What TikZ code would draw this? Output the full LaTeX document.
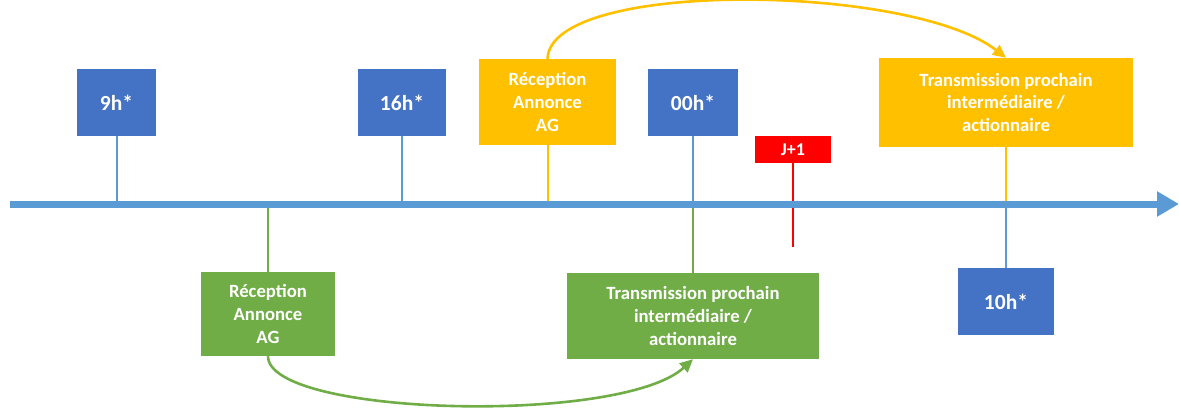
\documentclass[tikz,border=0pt]{standalone}
\usepackage{fontspec}
\setmainfont{Carlito}
\usetikzlibrary{arrows.meta}
\definecolor{boxblue}{HTML}{4472C4}
\definecolor{axisblue}{HTML}{5B9BD5}
\definecolor{boxyellow}{HTML}{FFC000}
\definecolor{boxgreen}{HTML}{70AD47}
\definecolor{boxred}{HTML}{FF0000}
\tikzset{
  box/.style={inner sep=0pt, text=white, align=center, font=\bfseries\fontsize{18.7bp}{22.7bp}\selectfont},
  timebox/.style={box, fill=boxblue, minimum height=67bp, font=\bfseries\fontsize{21.5bp}{25bp}\selectfont},
  eventy/.style={box, fill=boxyellow},
  eventg/.style={box, fill=boxgreen},
  daybox/.style={box, fill=boxred, minimum width=76bp, minimum height=27bp, font=\bfseries\fontsize{18bp}{20bp}\selectfont},
  tick/.style={line width=2bp},
  flow/.style={line width=2.6bp, -{Triangle[length=13bp,width=12bp]}},
  axisline/.style={axisblue, line width=7bp, -{Triangle[length=22bp,width=24bp]}}
}
\begin{document}
\begin{tikzpicture}[x=1bp, y=-1bp]
  \useasboundingbox (0,0) rectangle (1179,407);

  % time axis ends
  \coordinate (axL) at (10,204);
  \coordinate (axR) at (1179,204);

  % hour markers
  \node[timebox, minimum width=79bp] (t9)  at (116.5,102.5) {9h*};
  \node[timebox, minimum width=88bp] (t16) at (402,102.5) {16h*};
  \node[timebox, minimum width=90bp] (t00) at (693,102.5) {00h*};
  \node[timebox, minimum width=96bp] (t10) at (1006,301.5) {10h*};

  % events above the axis
  \node[eventy, minimum width=137bp, minimum height=86bp] (ya) at (547.5,102) {Réception\\Annonce\\AG};
  \node[eventy, minimum width=254bp, minimum height=89bp] (yb) at (1006,102.5) {Transmission prochain\\intermédiaire /\\actionnaire};

  % events below the axis
  \node[eventg, minimum width=134bp, minimum height=84bp] (ga) at (268,314) {Réception\\Annonce\\AG};
  \node[eventg, minimum width=252bp, minimum height=86bp] (gb) at (693,316) {Transmission prochain\\intermédiaire /\\actionnaire};

  % next day marker
  \node[daybox] (jp) at (793,149.5) {J+1};
  \coordinate (jpEnd) at (793,247);

  % ticks joining boxes to the axis
  \draw[tick, axisblue] (t9.south) -- (t9.south |- axL);
  \draw[tick, axisblue] (t16.south) -- (t16.south |- axL);
  \draw[tick, axisblue] (t00.south) -- (t00.south |- axL);
  \draw[tick, boxgreen] (gb.north) -- (gb.north |- axL);
  \draw[tick, boxyellow] (ya.south) -- (ya.south |- axL);
  \draw[tick, boxyellow] (yb.south) -- (yb.south |- axL);
  \draw[tick, axisblue] (t10.north) -- (t10.north |- axL);
  \draw[tick, boxgreen] (ga.north) -- (ga.north |- axL);
  \draw[boxred, line width=2.6bp] (jp.south) -- (jpEnd);

  % the axis itself
  \draw[axisline] (axL) -- (axR);

  % forwarding arrows
  \draw[flow, boxyellow] (ya.north) .. controls +(3,-80) and +(-95,-74) .. (yb.north);
  \draw[flow, boxgreen] (ga.south) .. controls +(0,60) and +(-72,66) .. (gb.south);
\end{tikzpicture}
\end{document}
